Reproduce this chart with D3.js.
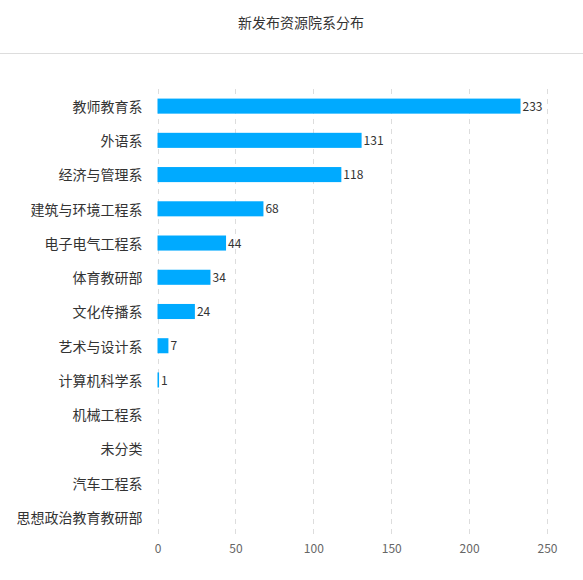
<!DOCTYPE html>
<html>
<head>
<meta charset="utf-8">
<script src="https://cdn.jsdelivr.net/npm/d3@7"></script>
<style>
  body { margin: 0; background: #fff; }
  text { font-family: "Noto Sans CJK SC", "Noto Sans", sans-serif; }
</style>
</head>
<body>
<div id="chart"></div>
<script>
// data
var titleText = "新发布资源院系分布";
var departments = ["教师教育系", "外语系", "经济与管理系", "建筑与环境工程系", "电子电气工程系",
                   "体育教研部", "文化传播系", "艺术与设计系", "计算机科学系", "机械工程系",
                   "未分类", "汽车工程系", "思想政治教育教研部"];
var counts = [233, 131, 118, 68, 44, 34, 24, 7, 1, 0, 0, 0, 0];
var xTicks = [0, 50, 100, 150, 200, 250];

var width = 583, height = 580;
var margin = {left: 157.5, right: 36, top: 89, bottom: 46};

var svg = d3.select("#chart").append("svg")
  .attr("width", width)
  .attr("height", height);

// title + divider (title sits a bit right of centre in the original)
svg.append("text")
  .attr("x", 301)
  .attr("y", 28)
  .attr("text-anchor", "middle")
  .style("font-size", "14px")
  .style("fill", "#333")
  .text(titleText);

svg.append("line")
  .attr("x1", 0).attr("x2", width)
  .attr("y1", 53.5).attr("y2", 53.5)
  .style("stroke", "#ddd");

var x = d3.scaleLinear()
  .domain([0, 250])
  .range([margin.left, width - margin.right]);

var y = d3.scaleBand()
  .domain(departments)
  .range([margin.top, height - margin.bottom])
  .paddingInner(0.56)
  .paddingOuter(0.28);

// grid
svg.append("g").selectAll("line")
  .data(xTicks)
  .enter().append("line")
  .attr("x1", function(d) { return Math.round(x(d)) + 0.5; })
  .attr("x2", function(d) { return Math.round(x(d)) + 0.5; })
  .attr("y1", margin.top)
  .attr("y2", height - margin.bottom)
  .style("stroke", "#ddd")
  .style("stroke-dasharray", "5,5");

// x axis (labels only)
var xAxis = svg.append("g")
  .attr("transform", "translate(0," + (height - margin.bottom) + ")")
  .call(d3.axisBottom(x).tickValues(xTicks).tickSize(0).tickPadding(10));
xAxis.select(".domain").remove();
xAxis.selectAll("text")
  .style("font-size", "12px")
  .style("fill", "#666")
  .style("font-family", "'Noto Sans CJK SC', 'Noto Sans', sans-serif");

// y axis labels
var yAxis = svg.append("g")
  .attr("transform", "translate(" + (margin.left - 15) + ",0)")
  .call(d3.axisLeft(y).tickSize(0).tickPadding(0));
yAxis.select(".domain").remove();
yAxis.selectAll("text")
  .attr("dy", "0.42em")
  .style("font-size", "14px")
  .style("fill", "#333")
  .style("font-family", "'Noto Sans CJK SC', 'Noto Sans', sans-serif");

// bars
svg.append("g").selectAll("rect")
  .data(counts)
  .enter().append("rect")
  .attr("x", x(0))
  .attr("y", function(d, i) { return y(departments[i]); })
  .attr("width", function(d) { return x(d) - x(0); })
  .attr("height", y.bandwidth())
  .style("fill", "#00aaff");

// value labels
svg.append("g").selectAll("text")
  .data(counts)
  .enter().filter(function(d) { return d > 0; })
  .append("text")
  .attr("x", function(d) { return x(d) + 2; })
  .attr("y", function(d, i) { return y(departments[i]) + y.bandwidth() / 2; })
  .attr("dy", "0.38em")
  .style("font-size", "12px")
  .style("fill", "#333")
  .text(function(d) { return d; });
</script>
</body>
</html>
